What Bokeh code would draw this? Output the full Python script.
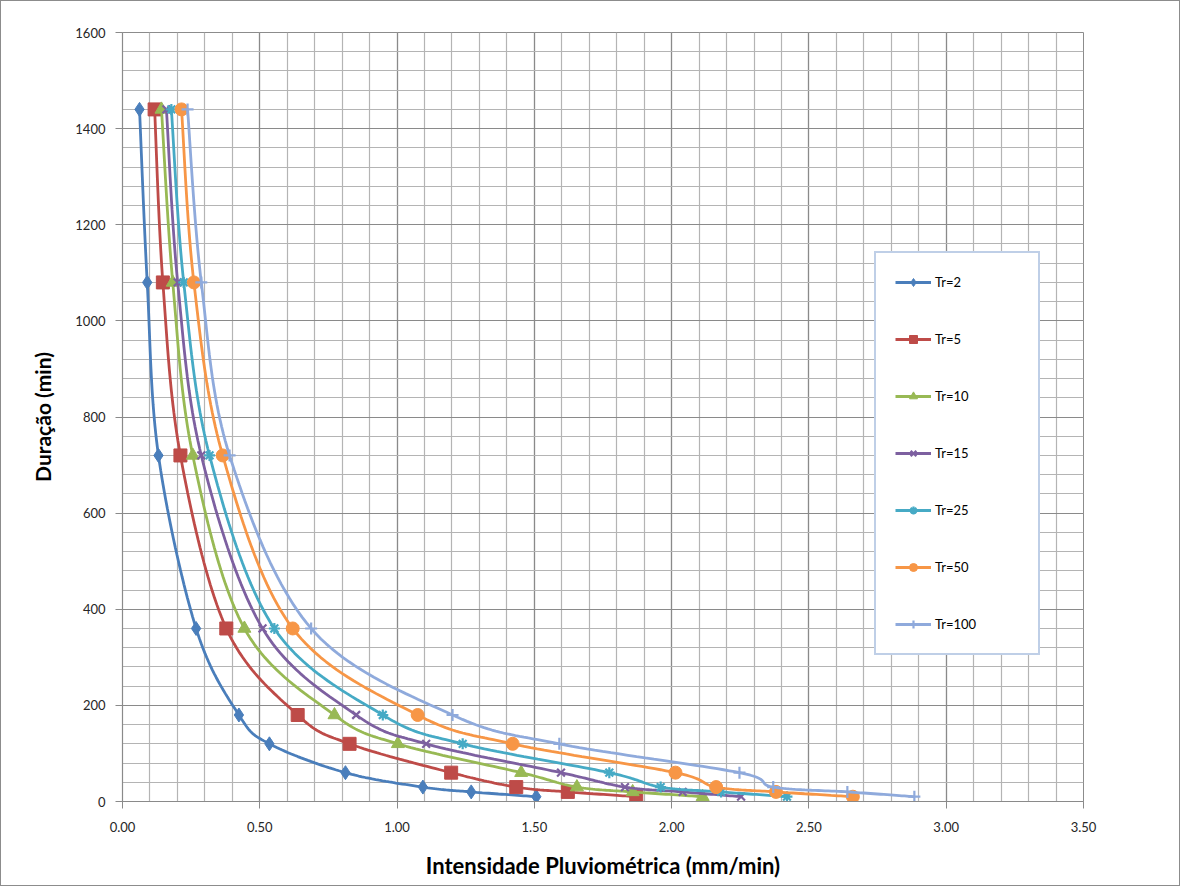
import numpy as np
from bokeh.plotting import figure
from bokeh.models import SingleIntervalTicker, NumeralTickFormatter, Range1d, Legend
from bokeh.embed import file_html
from bokeh.resources import INLINE

# ---- data ----
durations = [1440, 1080, 720, 360, 180, 120, 60, 30, 20, 10]
tr2 = [0.062, 0.090, 0.131, 0.268, 0.424, 0.535, 0.812, 1.094, 1.270, 1.507]
tr5 = [0.117, 0.147, 0.211, 0.378, 0.638, 0.827, 1.197, 1.434, 1.622, 1.871]
tr10 = [0.142, 0.183, 0.256, 0.444, 0.772, 1.003, 1.452, 1.655, 1.858, 2.113]
tr15 = [0.160, 0.201, 0.287, 0.510, 0.851, 1.106, 1.597, 1.830, 2.040, 2.253]
tr25 = [0.178, 0.223, 0.317, 0.553, 0.948, 1.239, 1.773, 1.960, 2.180, 2.420]
tr50 = [0.215, 0.260, 0.365, 0.620, 1.075, 1.421, 2.014, 2.162, 2.380, 2.660]
tr100 = [0.237, 0.287, 0.390, 0.687, 1.202, 1.591, 2.247, 2.370, 2.640, 2.884]

series_names = ["Tr=2", "Tr=5", "Tr=10", "Tr=15", "Tr=25", "Tr=50", "Tr=100"]
series_values = [tr2, tr5, tr10, tr15, tr25, tr50, tr100]
colors = ["#4a7ebb", "#be4b48", "#98b954", "#7d60a0", "#46aac5", "#f79646", "#8faadc"]
markers = ["diamond", "square", "triangle", "x", "asterisk", "circle", "cross"]
msizes = [14, 13, 13, 11, 11, 13, 12]

FONT = "Lato"


def smooth(xs, ys, n=24):
    """Excel-like smoothed line (Catmull-Rom Bezier) through the data points."""
    P = np.column_stack([xs, ys]).astype(float)
    out = []
    m = len(P)
    for i in range(m - 1):
        p0 = P[i - 1] if i > 0 else P[i]
        p1 = P[i]
        p2 = P[i + 1]
        p3 = P[i + 2] if i + 2 < m else P[i + 1]
        c1 = p1 + (p2 - p0) / 6.0
        c2 = p2 - (p3 - p1) / 6.0
        t = np.linspace(0, 1, n, endpoint=(i == m - 2))[:, None]
        seg = ((1 - t) ** 3) * p1 + 3 * ((1 - t) ** 2) * t * c1 + 3 * (1 - t) * t * t * c2 + (t ** 3) * p2
        out.append(seg)
    arr = np.vstack(out)
    return arr[:, 0], arr[:, 1]


p = figure(width=1180, height=886, output_backend="svg", toolbar_location=None,
           x_range=Range1d(0, 3.5), y_range=Range1d(0, 1600),
           min_border_left=121, min_border_right=98, min_border_top=31, min_border_bottom=86)
p.styles = {"border": "1px solid #8c8c8c"}

p.background_fill_color = "white"
p.border_fill_color = "white"
p.outline_line_color = "#8c8c8c"

xt = SingleIntervalTicker(interval=0.5, num_minor_ticks=5)
yt = SingleIntervalTicker(interval=200, num_minor_ticks=5)
p.xaxis.ticker = xt
p.yaxis.ticker = yt
p.xgrid.ticker = xt
p.ygrid.ticker = yt
p.xaxis.formatter = NumeralTickFormatter(format="0.00")

for g in (p.xgrid, p.ygrid):
    g.grid_line_color = "#8a8a8a"
    g.grid_line_width = 1.2
    g.minor_grid_line_color = "#b4b4b4"
    g.minor_grid_line_width = 1.2

for ax in (p.xaxis, p.yaxis):
    ax.axis_line_color = "#8a8a8a"
    ax.axis_line_width = 1.2
    ax.major_tick_line_color = "#8a8a8a"
    ax.major_tick_out = 7
    ax.major_tick_in = 0
    ax.minor_tick_line_color = None
    ax.major_label_text_font = FONT
    ax.major_label_text_font_size = "13px"
    ax.major_label_text_color = "#262626"
    ax.axis_label_text_font = FONT
    ax.axis_label_text_font_style = "bold"
    ax.axis_label_text_color = "#000000"

p.xaxis.axis_label = "Intensidade Pluviométrica (mm/min)"
p.yaxis.axis_label = "Duração (min)"
p.xaxis.axis_label_text_font_size = "22px"
p.yaxis.axis_label_text_font_size = "21px"
p.xaxis.major_label_standoff = 13
p.yaxis.major_label_standoff = 10
p.xaxis.axis_label_standoff = 17
p.yaxis.axis_label_standoff = 17

items = []
for name, vals, col, mk, ms in zip(series_names, series_values, colors, markers, msizes):
    sx, sy = smooth(vals, durations)
    r1 = p.line(sx, sy, line_color=col, line_width=2.8)
    lw = 2.2 if mk in ("x", "asterisk", "cross") else 1
    r2 = p.scatter(vals, durations, marker=mk, size=ms, fill_color=col, line_color=col, line_width=lw)
    items.append((name, [r1, r2]))

legend = Legend(items=items, location=(752, 146))
legend.orientation = "vertical"
legend.glyph_height = 20
legend.glyph_width = 36
legend.label_height = 20
legend.label_width = 84
legend.spacing = 37
legend.padding = 19
legend.margin = 0
legend.label_standoff = 4
legend.label_text_font = FONT
legend.label_text_font_size = "13px"
legend.label_text_color = "#000000"
legend.border_line_color = "#7f9fcf"
legend.border_line_width = 2
legend.background_fill_color = "white"
legend.background_fill_alpha = 1
p.add_layout(legend, "center")

open("out.html", "w").write(file_html(p, INLINE))
